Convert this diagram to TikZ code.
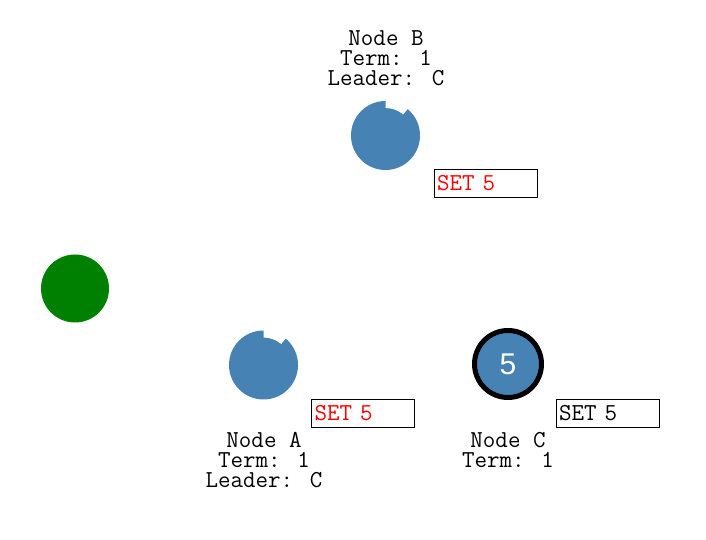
\documentclass[tikz,border=0pt]{standalone}
\usepackage{fontspec}
\newfontfamily\digitfont{Liberation Sans}
\definecolor{steel}{RGB}{70,130,180}
\definecolor{leafgreen}{RGB}{0,128,0}

\begin{document}
\begin{tikzpicture}[
	x=1pt,
	y=1pt,
	server/.style={
		circle,
		fill=steel,
		inner sep=0pt,
		minimum size=69pt
	},
	leader/.style={
		circle,
		fill=steel,
		draw=black,
		line width=5pt,
		inner sep=0pt,
		minimum size=67pt,
		text=white,
		font=\digitfont\fontsize{30}{30}\selectfont
	},
	client/.style={
		circle,
		fill=leafgreen,
		inner sep=0pt,
		minimum size=68pt
	},
	info/.style={
		align=center,
		inner sep=0pt,
		font=\ttfamily\fontsize{24.3}{20}\selectfont
	},
	msg/.style={
		rectangle,
		draw=black,
		thin,
		align=left,
		inner sep=3pt,
		text width=97pt,
		minimum height=28pt,
		font=\ttfamily\fontsize{24.3}{20}\selectfont
	},
]
\useasboundingbox (0,0) rectangle (706,540);

\node[client] (client) at (75, 251.5) {};

\node[server] (node_b) at (385.5, 404.5) {};
\node[server] (node_a) at (263.5, 175) {};
\node[leader] (node_c) at (508, 176) {5};

% timeout notches
\fill[white] ([shift={(50:36)}]node_b.center) arc[start angle=50, end angle=90, radius=36]
	-- ([shift={(90:27.5)}]node_b.center) arc[start angle=90, end angle=50, radius=27.5] -- cycle;
\fill[white] ([shift={(50:36)}]node_a.center) arc[start angle=50, end angle=90, radius=36]
	-- ([shift={(90:27.5)}]node_a.center) arc[start angle=90, end angle=50, radius=27.5] -- cycle;

\node[info] (info_b) at (386, 482) {Node B\\Term: 1\\Leader: C};
\node[info] (info_a) at (264, 80) {Node A\\Term: 1\\Leader: C};
\node[info] (info_c) at (508, 90) {Node C\\Term: 1};

\node[msg, text=red] (set_b) at (485.5, 357) {SET 5};
\node[msg, text=red] (set_a) at (363, 127) {SET 5};
\node[msg] (set_c) at (607.5, 127) {SET 5};

\end{tikzpicture}
\end{document}
